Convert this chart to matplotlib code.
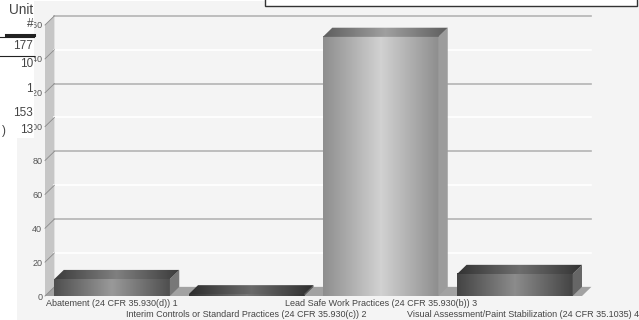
import numpy as np
import matplotlib
matplotlib.use('Agg')
import matplotlib.pyplot as plt
from matplotlib.colors import LinearSegmentedColormap
from matplotlib.patches import Polygon, Rectangle

plt.rcParams['font.family'] = ['Liberation Sans', 'DejaVu Sans']

categories = [
    'Abatement (24 CFR 35.930(d)) 1',
    'Interim Controls or Standard Practices (24 CFR 35.930(c)) 2',
    'Lead Safe Work Practices (24 CFR 35.930(b)) 3',
    'Visual Assessment/Paint Stabilization (24 CFR 35.1035) 4',
]
values = [10, 1, 153, 13]
y_ticks = [0, 20, 40, 60, 80, 100, 120, 140, 160]
table_rows = ['177', '10', '1', '153', '13']

# grey ramp per bar: edge, middle, top edge, top middle, side
bar_greys = [
    ('#4f4f4f', '#9a9a9a', '#3c3c3c', '#808080', '#777777'),
    ('#333333', '#777777', '#2e2e2e', '#6a6a6a', '#555555'),
    ('#8e8e8e', '#d2d2d2', '#5e5e5e', '#a0a0a0', '#9c9c9c'),
    ('#444444', '#8c8c8c', '#333333', '#6e6e6e', '#666666'),
]

BAR_WIDTH = 0.86
DEPTH_X = 0.07
DEPTH_Y = 5.4


def gradient_bar(ax, x0, x1, y0, y1, edge, mid, zorder):
    cmap = LinearSegmentedColormap.from_list('bar', [edge, mid, edge])
    ax.imshow(np.linspace(0, 1, 128).reshape(1, -1), extent=(x0, x1, y0, y1),
              cmap=cmap, aspect='auto', zorder=zorder, interpolation='bilinear',
              clip_on=False)


fig = plt.figure(figsize=(6.39, 3.2), dpi=100, facecolor='white')

# panel behind the chart
fig.add_artist(Rectangle((17 / 639, 0), 1, 319 / 320, transform=fig.transFigure,
                         facecolor='#f4f4f4', edgecolor='none', zorder=-5))

ax = fig.add_axes([45 / 639, 24 / 320, 537 / 639, 271 / 320])
ax.set_autoscale_on(False)
ax.set_xlim(-0.5, 3.5)
ax.set_ylim(0, 160)
ax.patch.set_alpha(0)
for spine in ax.spines.values():
    spine.set_visible(False)

# back wall, left wall and floor
x_l, x_r = ax.get_xlim()
ax.add_patch(Polygon([(x_l, 0), (x_l + DEPTH_X, DEPTH_Y), (x_l + DEPTH_X, 160 + DEPTH_Y), (x_l, 160)],
                     facecolor='#c6c6c6', edgecolor='none', zorder=1, clip_on=False))
ax.add_patch(Polygon([(x_l, 0), (x_l + DEPTH_X, DEPTH_Y), (x_r + DEPTH_X, DEPTH_Y), (x_r, 0)],
                     facecolor='#a2a2a2', edgecolor='none', zorder=1, clip_on=False))

for v in y_ticks[1:]:
    colour = '#b4b4b4' if v % 40 == 0 else 'white'
    ax.plot([x_l + DEPTH_X, x_r + DEPTH_X], [v + DEPTH_Y, v + DEPTH_Y], color=colour, lw=1.2,
            zorder=2, clip_on=False)
for v in y_ticks:
    ax.plot([x_l, x_l + DEPTH_X], [v, v + DEPTH_Y], color='#8a8a8a', lw=0.6, zorder=2, clip_on=False)

# bars with a front, a top and a side face
for i, v in enumerate(values):
    x0 = i - BAR_WIDTH / 2
    x1 = i + BAR_WIDTH / 2
    edge, mid, top_edge, top_mid, side = bar_greys[i]
    gradient_bar(ax, x0, x1, 0, v, edge, mid, 4)
    ax.add_patch(Polygon([(x1, 0), (x1 + DEPTH_X, DEPTH_Y), (x1 + DEPTH_X, v + DEPTH_Y), (x1, v)],
                         facecolor=side, edgecolor='none', zorder=4, clip_on=False))
    top = Polygon([(x0, v), (x0 + DEPTH_X, v + DEPTH_Y), (x1 + DEPTH_X, v + DEPTH_Y), (x1, v)],
                  facecolor='none', edgecolor='none', zorder=5, clip_on=False)
    ax.add_patch(top)
    cmap = LinearSegmentedColormap.from_list('top', [top_edge, top_mid, top_edge])
    im = ax.imshow(np.linspace(0, 1, 128).reshape(1, -1),
                   extent=(x0, x1 + DEPTH_X, v, v + DEPTH_Y), cmap=cmap, aspect='auto',
                   zorder=5, clip_on=True)
    im.set_clip_path(top)

ax.set_yticks(y_ticks)
ax.set_yticklabels([str(v) for v in y_ticks], fontsize=6.5, color='#555555')
ax.tick_params(axis='y', length=0, pad=2)
ax.set_xticks(range(len(categories)))
ax.set_xticklabels([])
ax.tick_params(axis='x', length=0)

# staggered category labels under the floor
for i, name in enumerate(categories):
    offset = -5.2 if i % 2 == 0 else -13.6
    x_pos = i + 0.06 if i == 3 else i
    ax.annotate(name, (x_pos, 0), xytext=(0, offset), textcoords='offset points', ha='center',
                va='center', fontsize=6.5, color='#444444', annotation_clip=False)

# the table left of the chart sits on its own white cell, over the long tick labels
fig.add_artist(Rectangle((0, 1 - 138 / 320), 34 / 639, 138 / 320, transform=fig.transFigure,
                         facecolor='white', edgecolor='none', zorder=3))
for label, py, size in [('Unit', 10, 9.8), ('#', 24, 8.5)] + [(r, p, 8.5) for r, p in zip(table_rows, [46, 64, 89, 113, 130])]:
    fig.text(33 / 639, 1 - py / 320, label, ha='right', va='center', fontsize=size, color='#444444', zorder=6)
fig.text(2 / 639, 1 - 131 / 320, ')', ha='left', va='center', fontsize=8.5, color='#444444', zorder=6)
fig.add_artist(plt.Line2D([6 / 639, 34 / 639], [1 - 34.5 / 320] * 2, color='#222222', lw=2.2, zorder=6))
fig.add_artist(plt.Line2D([0, 34 / 639], [1 - 37 / 320] * 2, color='#222222', lw=0.8, zorder=6))
fig.add_artist(plt.Line2D([0, 34 / 639], [1 - 55.5 / 320] * 2, color='#222222', lw=0.8, zorder=6))

# white box cut off by the top edge
fig.add_artist(Rectangle((264.5 / 639, 1 - 6 / 320), 372 / 639, 8 / 320, transform=fig.transFigure,
                         facecolor='white', edgecolor='#333333', lw=1.0))

fig.savefig('out.png', dpi=100)
